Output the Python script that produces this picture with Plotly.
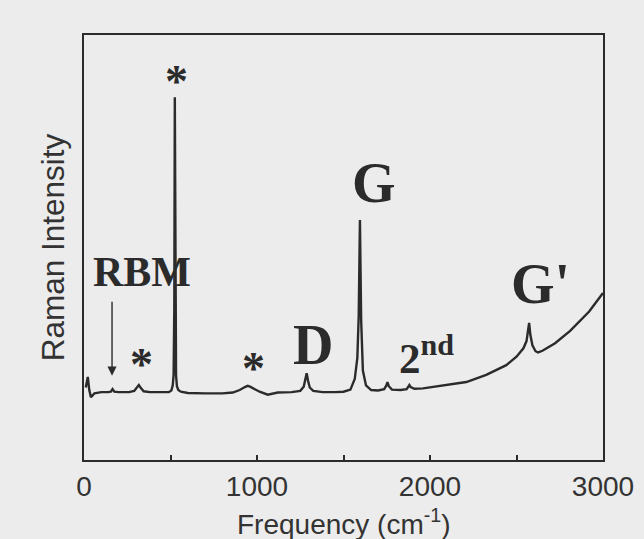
import plotly.graph_objects as go

# Raman spectrum (frequency in cm^-1, intensity in arbitrary units)
freq = [10, 22, 30, 40, 60, 100, 140, 155, 165, 175, 200, 260, 290, 305, 317, 330, 345,
        380, 440, 490, 505, 513, 518, 522, 525, 528, 532, 537, 545, 560, 600, 700, 800,
        860, 900, 930, 946, 960, 985, 1015, 1062, 1120, 1200, 1250, 1270, 1280, 1287,
        1295, 1305, 1325, 1380, 1450, 1500, 1540, 1565, 1580, 1588, 1595, 1602, 1612,
        1630, 1660, 1700, 1735, 1748, 1754, 1762, 1780, 1830, 1865, 1876, 1881, 1888,
        1910, 1960, 2014, 2100, 2210, 2325, 2441, 2500, 2540, 2558, 2568, 2573, 2580,
        2592, 2610, 2625, 2650, 2723, 2810, 2920, 3000]
intensity = [16.0, 18.5, 15.5, 13.7, 14.6, 14.9, 14.9, 15.0, 15.6, 15.0, 14.9, 14.9, 15.2,
             15.9, 16.6, 15.8, 15.1, 14.9, 14.9, 14.9, 15.3, 16.5, 19.0, 35.0, 84.8, 35.0,
             19.0, 16.3, 15.4, 15.0, 14.7, 14.6, 14.6, 14.8, 15.4, 16.1, 16.4, 16.2, 15.6,
             15.0, 14.3, 14.8, 14.9, 15.2, 16.2, 17.8, 19.4, 17.6, 16.0, 15.2, 14.9, 14.9,
             15.0, 15.5, 18.0, 23.0, 33.0, 55.7, 32.0, 20.0, 16.5, 15.4, 15.3, 15.6, 16.5,
             17.3, 16.3, 15.5, 15.4, 15.6, 16.3, 16.6, 16.1, 15.7, 15.8, 16.1, 16.6, 17.3,
             19.0, 21.3, 23.3, 25.3, 27.0, 29.5, 31.3, 28.5, 26.0, 24.6, 24.3, 24.7, 26.5,
             29.4, 34.0, 38.4]

tick_vals = [0, 500, 1000, 1500, 2000, 2500, 3000]
tick_text = ["0", "", "1000", "", "2000", "", "3000"]

# peak labels: (text, frequency position, intensity position, font size)
labels = [
    ("*", 537, 88.5, 46),
    ("RBM", 335, 43.4, 42),
    ("*", 335, 21.5, 46),
    ("*", 981, 20.5, 46),
    ("D", 1321, 26.1, 56),
    ("G", 1679, 64.5, 56),
    ("2<sup>nd</sup>", 1980, 23.6, 43),
    ("G'", 2640, 40.5, 56),
]

ink = "#2b2b2b"
txtc = "#333333"
bg = "#ececec"

fig = go.Figure()
fig.add_trace(go.Scatter(x=freq, y=intensity, mode="lines",
                         line=dict(color=ink, width=2.4), showlegend=False,
                         hoverinfo="skip"))

for txt, fx, fy, fs in labels:
    fig.add_annotation(x=fx, y=fy, xref="x", yref="y", text=txt, showarrow=False,
                       font=dict(family="Liberation Serif", size=fs, color=ink,
                                 weight="bold"),
                       xanchor="center", yanchor="middle")

# RBM arrow
fig.add_annotation(x=162, y=18.8, ax=162, ay=36.7, xref="x", yref="y",
                   axref="x", ayref="y", text="", showarrow=True,
                   arrowhead=2, arrowsize=1.3, arrowwidth=1.4, arrowcolor=ink)

# x axis title
fig.add_annotation(x=0.5, y=-0.1455, xref="paper", yref="paper",
                   text="Frequency (cm<sup>-1</sup>)", showarrow=False,
                   xanchor="center", yanchor="middle",
                   font=dict(size=28, family="Liberation Sans", color=txtc))

fig.update_layout(
    width=644, height=539,
    margin=dict(l=84, r=41, t=35, b=79),
    paper_bgcolor=bg, plot_bgcolor=bg,
    font=dict(family="Liberation Sans", color=txtc),
    xaxis=dict(range=[0, 3000], tickvals=tick_vals, ticktext=tick_text,
               ticks="inside", ticklen=5, tickwidth=1.5, tickcolor=ink,
               showline=True, linecolor=ink, linewidth=2, mirror=True,
               showgrid=False, zeroline=False, ticklabelstandoff=0,
               automargin=False,
               tickfont=dict(size=28, family="Liberation Sans", color=txtc)),
    yaxis=dict(range=[-1.18, 99.53], showticklabels=False, ticks="",
               showline=True, linecolor=ink, linewidth=2, mirror=True,
               showgrid=False, zeroline=False, automargin=False,
               title=dict(text="Raman Intensity", standoff=8,
                          font=dict(size=31.5, family="Liberation Sans", color=txtc))),
)

fig.write_html("out.html")
